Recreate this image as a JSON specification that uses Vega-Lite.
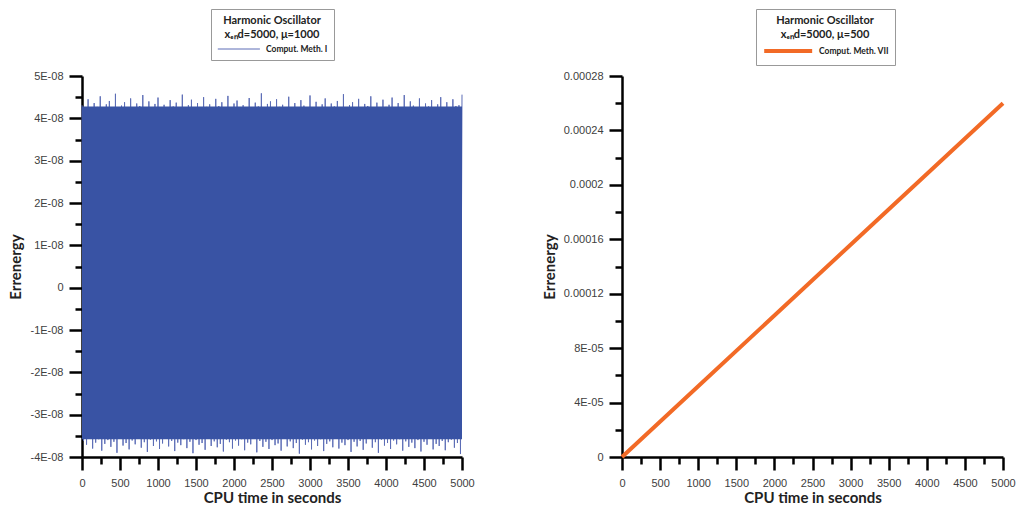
{
"$schema": "https://vega.github.io/schema/vega-lite/v6.json",
"background": "white",
"padding": {"left": 8, "top": 8, "right": 5, "bottom": 5},
"spacing": 67,
"resolve": {"scale": {"color": "independent"}, "legend": {"color": "independent"}},
"config": {
  "view": {"stroke": null},
  "axis": {"grid": false, "domainColor": "black", "domainWidth": 2.5, "tickColor": "black", "tickWidth": 2.5, "labelFont": "Liberation Sans", "labelFontSize": 11, "labelColor": "#404040", "titleFont": "Lato", "titleFontWeight": "bold", "titleFontSize": 15, "titleColor": "#222222"},
  "axisX": {"titlePadding": 2, "labelPadding": 7, "labelFlush": false, "labelOverlap": false},
  "axisY": {"titlePadding": 6, "labelPadding": 6, "titleFontSize": 15, "labelOverlap": false},
  "legend": {"titleFont": "Lato", "titleFontSize": 11, "titleFontWeight": "bold", "titleColor": "#222222", "titleAnchor": "middle", "titleLimit": 0, "titleLineHeight": 14, "titlePadding": 4, "labelFont": "Lato", "labelFontSize": 8.5, "labelFontWeight": "bold", "labelColor": "#222222", "labelLimit": 0, "strokeColor": "#999999", "fillColor": "white", "padding": 6, "symbolType": "M-1,0H9"}
},
"hconcat": [
{
  "width": 380, "height": 381,
  "encoding": {
    "x": {"field": "t", "type": "quantitative", "scale": {"domain": [0, 5000], "nice": false},
      "axis": {"values": [0,250,500,750,1000,1250,1500,1750,2000,2250,2500,2750,3000,3250,3500,3750,4000,4250,4500,4750,5000], "format": "d", "labelExpr": "datum.value % 500 == 0 ? datum.label : ''", "tickSize": {"condition": {"test": "datum.value % 500 == 0", "value": 13}, "value": 7}, "title": "CPU time in seconds"}},
    "y": {"field": "e", "type": "quantitative", "scale": {"domain": [-4e-8, 5e-8], "nice": false, "zero": false},
      "axis": {"values": [-4e-8,-3.5e-8,-3e-8,-2.5e-8,-2e-8,-1.5e-8,-1e-8,-5e-9,0,5e-9,1e-8,1.5e-8,2e-8,2.5e-8,3e-8,3.5e-8,4e-8,4.5e-8,5e-8], "labelExpr": "abs(datum.value*1e8 - round(datum.value*1e8)) < 0.01 ? (round(datum.value*1e8) == 0 ? '0' : (datum.value < 0 ? '-' : '') + abs(round(datum.value*1e8)) + 'E-08') : ''", "tickSize": {"condition": {"test": "abs(datum.value*1e8 - round(datum.value*1e8)) < 0.01", "value": 13}, "value": 7}, "title": "Errenergy"}}
  },
  "layer": [
    {
      "data": {"values": [
{"t":0,"e":4.31e-8},{"t":20,"e":-3.62e-8},{"t":40,"e":4.22e-8},{"t":60,"e":-3.71e-8},{"t":80,"e":4.45e-8},{"t":100,"e":-3.55e-8},{"t":120,"e":4.18e-8},{"t":140,"e":-3.80e-8},{"t":160,"e":4.36e-8},{"t":180,"e":-3.66e-8},
{"t":200,"e":4.27e-8},{"t":220,"e":-3.58e-8},{"t":240,"e":4.52e-8},{"t":260,"e":-3.85e-8},{"t":280,"e":4.20e-8},{"t":300,"e":-3.69e-8},{"t":320,"e":4.33e-8},{"t":340,"e":-3.60e-8},{"t":360,"e":4.41e-8},{"t":380,"e":-3.76e-8},
{"t":400,"e":4.24e-8},{"t":420,"e":-3.64e-8},{"t":440,"e":4.58e-8},{"t":460,"e":-3.90e-8},{"t":480,"e":4.19e-8},{"t":500,"e":-3.57e-8},{"t":520,"e":4.30e-8},{"t":540,"e":-3.73e-8},{"t":560,"e":4.38e-8},{"t":580,"e":-3.67e-8},
{"t":600,"e":4.25e-8},{"t":620,"e":-3.82e-8},{"t":640,"e":4.47e-8},{"t":660,"e":-3.61e-8},{"t":680,"e":4.21e-8},{"t":700,"e":-3.70e-8},{"t":720,"e":4.35e-8},{"t":740,"e":-3.56e-8},{"t":760,"e":4.29e-8},{"t":780,"e":-3.78e-8},
{"t":800,"e":4.55e-8},{"t":820,"e":-3.65e-8},{"t":840,"e":4.23e-8},{"t":860,"e":-3.88e-8},{"t":880,"e":4.40e-8},{"t":900,"e":-3.59e-8},{"t":920,"e":4.17e-8},{"t":940,"e":-3.74e-8},{"t":960,"e":4.34e-8},{"t":980,"e":-3.63e-8},
{"t":1000,"e":4.49e-8},{"t":1020,"e":-3.81e-8},{"t":1040,"e":4.26e-8},{"t":1060,"e":-3.68e-8},{"t":1080,"e":4.32e-8},{"t":1100,"e":-3.57e-8},{"t":1120,"e":4.20e-8},{"t":1140,"e":-3.75e-8},{"t":1160,"e":4.43e-8},{"t":1180,"e":-3.62e-8},
{"t":1200,"e":4.28e-8},{"t":1220,"e":-3.86e-8},{"t":1240,"e":4.37e-8},{"t":1260,"e":-3.66e-8},{"t":1280,"e":4.22e-8},{"t":1300,"e":-3.72e-8},{"t":1320,"e":4.56e-8},{"t":1340,"e":-3.58e-8},{"t":1360,"e":4.19e-8},{"t":1380,"e":-3.79e-8},
{"t":1400,"e":4.31e-8},{"t":1420,"e":-3.64e-8},{"t":1440,"e":4.44e-8},{"t":1460,"e":-3.91e-8},{"t":1480,"e":4.25e-8},{"t":1500,"e":-3.60e-8},{"t":1520,"e":4.36e-8},{"t":1540,"e":-3.71e-8},{"t":1560,"e":4.21e-8},{"t":1580,"e":-3.67e-8},
{"t":1600,"e":4.50e-8},{"t":1620,"e":-3.83e-8},{"t":1640,"e":4.27e-8},{"t":1660,"e":-3.56e-8},{"t":1680,"e":4.33e-8},{"t":1700,"e":-3.74e-8},{"t":1720,"e":4.18e-8},{"t":1740,"e":-3.63e-8},{"t":1760,"e":4.46e-8},{"t":1780,"e":-3.77e-8},
{"t":1800,"e":4.29e-8},{"t":1820,"e":-3.69e-8},{"t":1840,"e":4.38e-8},{"t":1860,"e":-3.87e-8},{"t":1880,"e":4.23e-8},{"t":1900,"e":-3.59e-8},{"t":1920,"e":4.53e-8},{"t":1940,"e":-3.65e-8},{"t":1960,"e":4.20e-8},{"t":1980,"e":-3.80e-8},
{"t":2000,"e":4.35e-8},{"t":2020,"e":-3.61e-8},{"t":2040,"e":4.42e-8},{"t":2060,"e":-3.73e-8},{"t":2080,"e":4.26e-8},{"t":2100,"e":-3.58e-8},{"t":2120,"e":4.31e-8},{"t":2140,"e":-3.84e-8},{"t":2160,"e":4.19e-8},{"t":2180,"e":-3.66e-8},
{"t":2200,"e":4.48e-8},{"t":2220,"e":-3.70e-8},{"t":2240,"e":4.24e-8},{"t":2260,"e":-3.57e-8},{"t":2280,"e":4.37e-8},{"t":2300,"e":-3.89e-8},{"t":2320,"e":4.28e-8},{"t":2340,"e":-3.62e-8},{"t":2360,"e":4.59e-8},{"t":2380,"e":-3.76e-8},
{"t":2400,"e":4.22e-8},{"t":2420,"e":-3.64e-8},{"t":2440,"e":4.34e-8},{"t":2460,"e":-3.81e-8},{"t":2480,"e":4.40e-8},{"t":2500,"e":-3.60e-8},{"t":2520,"e":4.21e-8},{"t":2540,"e":-3.72e-8},{"t":2560,"e":4.45e-8},{"t":2580,"e":-3.68e-8},
{"t":2600,"e":4.27e-8},{"t":2620,"e":-3.85e-8},{"t":2640,"e":4.32e-8},{"t":2660,"e":-3.56e-8},{"t":2680,"e":4.18e-8},{"t":2700,"e":-3.75e-8},{"t":2720,"e":4.51e-8},{"t":2740,"e":-3.63e-8},{"t":2760,"e":4.25e-8},{"t":2780,"e":-3.79e-8},
{"t":2800,"e":4.36e-8},{"t":2820,"e":-3.67e-8},{"t":2840,"e":4.23e-8},{"t":2860,"e":-3.92e-8},{"t":2880,"e":4.43e-8},{"t":2900,"e":-3.59e-8},{"t":2920,"e":4.30e-8},{"t":2940,"e":-3.71e-8},{"t":2960,"e":4.20e-8},{"t":2980,"e":-3.65e-8},
{"t":3000,"e":4.54e-8},{"t":3020,"e":-3.82e-8},{"t":3040,"e":4.26e-8},{"t":3060,"e":-3.61e-8},{"t":3080,"e":4.39e-8},{"t":3100,"e":-3.74e-8},{"t":3120,"e":4.22e-8},{"t":3140,"e":-3.58e-8},{"t":3160,"e":4.33e-8},{"t":3180,"e":-3.86e-8},
{"t":3200,"e":4.47e-8},{"t":3220,"e":-3.69e-8},{"t":3240,"e":4.19e-8},{"t":3260,"e":-3.63e-8},{"t":3280,"e":4.35e-8},{"t":3300,"e":-3.77e-8},{"t":3320,"e":4.28e-8},{"t":3340,"e":-3.57e-8},{"t":3360,"e":4.41e-8},{"t":3380,"e":-3.80e-8},
{"t":3400,"e":4.24e-8},{"t":3420,"e":-3.66e-8},{"t":3440,"e":4.57e-8},{"t":3460,"e":-3.72e-8},{"t":3480,"e":4.21e-8},{"t":3500,"e":-3.60e-8},{"t":3520,"e":4.31e-8},{"t":3540,"e":-3.88e-8},{"t":3560,"e":4.38e-8},{"t":3580,"e":-3.64e-8},
{"t":3600,"e":4.25e-8},{"t":3620,"e":-3.75e-8},{"t":3640,"e":4.46e-8},{"t":3660,"e":-3.62e-8},{"t":3680,"e":4.20e-8},{"t":3700,"e":-3.83e-8},{"t":3720,"e":4.34e-8},{"t":3740,"e":-3.68e-8},{"t":3760,"e":4.29e-8},{"t":3780,"e":-3.56e-8},
{"t":3800,"e":4.52e-8},{"t":3820,"e":-3.78e-8},{"t":3840,"e":4.23e-8},{"t":3860,"e":-3.65e-8},{"t":3880,"e":4.37e-8},{"t":3900,"e":-3.90e-8},{"t":3920,"e":4.18e-8},{"t":3940,"e":-3.59e-8},{"t":3960,"e":4.44e-8},{"t":3980,"e":-3.73e-8},
{"t":4000,"e":4.27e-8},{"t":4020,"e":-3.67e-8},{"t":4040,"e":4.32e-8},{"t":4060,"e":-3.81e-8},{"t":4080,"e":4.49e-8},{"t":4100,"e":-3.61e-8},{"t":4120,"e":4.22e-8},{"t":4140,"e":-3.70e-8},{"t":4160,"e":4.36e-8},{"t":4180,"e":-3.58e-8},
{"t":4200,"e":4.26e-8},{"t":4220,"e":-3.85e-8},{"t":4240,"e":4.55e-8},{"t":4260,"e":-3.63e-8},{"t":4280,"e":4.20e-8},{"t":4300,"e":-3.76e-8},{"t":4320,"e":4.40e-8},{"t":4340,"e":-3.66e-8},{"t":4360,"e":4.30e-8},{"t":4380,"e":-3.79e-8},
{"t":4400,"e":4.24e-8},{"t":4420,"e":-3.60e-8},{"t":4440,"e":4.47e-8},{"t":4460,"e":-3.87e-8},{"t":4480,"e":4.19e-8},{"t":4500,"e":-3.64e-8},{"t":4520,"e":4.35e-8},{"t":4540,"e":-3.71e-8},{"t":4560,"e":4.28e-8},{"t":4580,"e":-3.57e-8},
{"t":4600,"e":4.43e-8},{"t":4620,"e":-3.82e-8},{"t":4640,"e":4.21e-8},{"t":4660,"e":-3.69e-8},{"t":4680,"e":4.33e-8},{"t":4700,"e":-3.74e-8},{"t":4720,"e":4.50e-8},{"t":4740,"e":-3.62e-8},{"t":4760,"e":4.26e-8},{"t":4780,"e":-3.84e-8},
{"t":4800,"e":4.38e-8},{"t":4820,"e":-3.65e-8},{"t":4840,"e":4.23e-8},{"t":4860,"e":-3.59e-8},{"t":4880,"e":4.45e-8},{"t":4900,"e":-3.78e-8},{"t":4920,"e":4.29e-8},{"t":4940,"e":-3.67e-8},{"t":4960,"e":4.31e-8},{"t":4980,"e":-3.93e-8},
{"t":5000,"e":4.56e-8}
      ]},
      "mark": {"type": "line", "strokeWidth": 1},
      "encoding": {
        "color": {"datum": "Comput. Meth. I", "type": "nominal", "scale": {"range": ["#5c6db6"]},
          "legend": {"orient": "none", "legendX": 129, "legendY": -67, "title": ["Harmonic Oscillator", "xₑₙd=5000, μ=1000"], "symbolSize": 71, "labelOffset": 39, "symbolStrokeWidth": 1, "symbolStrokeColor": "#8c97cc"}}
      }
    },
    {
      "data": {"values": [{"t": 0, "e": 4.28e-8, "lo": -3.58e-8}, {"t": 5000, "e": 4.28e-8, "lo": -3.58e-8}]},
      "mark": {"type": "area", "color": "#3953a4"},
      "encoding": {"y2": {"field": "lo"}}
    }
  ]
},
{
  "width": 381, "height": 381,
  "data": {"values": [
    {"t": 0, "e": 0}, {"t": 1000, "e": 5.2e-5}, {"t": 2000, "e": 1.04e-4}, {"t": 3000, "e": 1.56e-4}, {"t": 4000, "e": 2.08e-4}, {"t": 5000, "e": 2.6e-4}
  ]},
  "mark": {"type": "line", "strokeWidth": 4},
  "encoding": {
    "x": {"field": "t", "type": "quantitative", "scale": {"domain": [0, 5000], "nice": false},
      "axis": {"values": [0,250,500,750,1000,1250,1500,1750,2000,2250,2500,2750,3000,3250,3500,3750,4000,4250,4500,4750,5000], "format": "d", "labelExpr": "datum.value % 500 == 0 ? datum.label : ''", "tickSize": {"condition": {"test": "datum.value % 500 == 0", "value": 13}, "value": 7}, "title": "CPU time in seconds"}},
    "y": {"field": "e", "type": "quantitative", "scale": {"domain": [0, 2.8e-4], "nice": false},
      "axis": {"values": [0,2e-5,4e-5,6e-5,8e-5,1e-4,1.2e-4,1.4e-4,1.6e-4,1.8e-4,2e-4,2.2e-4,2.4e-4,2.6e-4,2.8e-4], "labelExpr": "round(datum.value/2e-5) % 2 == 0 ? ['0','4E-05','8E-05','0.00012','0.00016','0.0002','0.00024','0.00028'][round(datum.value/4e-5)] : ''", "tickSize": {"condition": {"test": "round(datum.value/2e-5) % 2 == 0", "value": 13}, "value": 7}, "title": "Errenergy"}},
    "color": {"datum": "Comput. Meth. VII", "type": "nominal", "scale": {"range": ["#f26a26"]},
      "legend": {"orient": "none", "legendX": 134, "legendY": -67, "title": ["Harmonic Oscillator", "xₑₙd=5000, μ=500"], "symbolSize": 92, "labelOffset": 43, "symbolStrokeWidth": 4}}
  }
}
]
}
